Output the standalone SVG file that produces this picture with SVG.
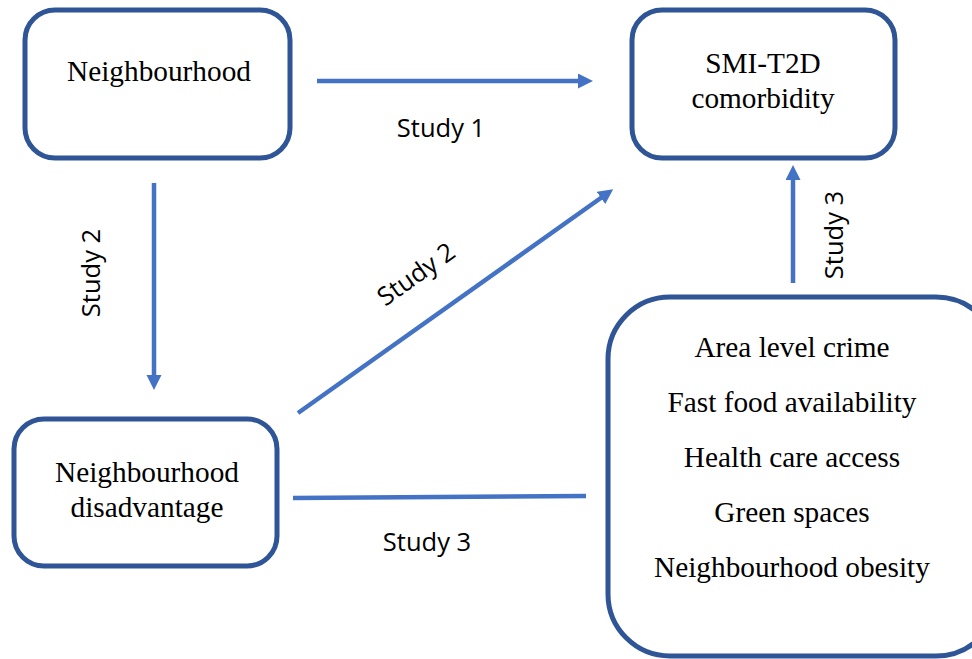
<svg xmlns="http://www.w3.org/2000/svg" width="972" height="659" viewBox="0 0 972 659">
<style>
.box{fill:#fff;stroke:#2F5597;stroke-width:5}
.nt{font-family:"Liberation Serif","Times New Roman",serif;font-size:29.3px;fill:#000;text-anchor:middle}
.lb{font-family:"Open Sans","Liberation Sans",sans-serif;font-size:25.5px;fill:#000;text-anchor:middle}
.ar{stroke:#4472C4;stroke-width:4.5;fill:none}
</style>
<defs>
<marker id="ah" markerUnits="userSpaceOnUse" markerWidth="16" markerHeight="16" refX="5" refY="7.5" orient="auto">
<path d="M0,0 L15,7.5 L0,15 z" fill="#4472C4"/>
</marker>
</defs>
<rect width="972" height="659" fill="#fff"/>
<g id="n1">
<rect class="box" x="25" y="10" width="265" height="148" rx="30"/>
<text class="nt" x="159" y="81">Neighbourhood</text>
</g>
<g id="n2">
<rect class="box" x="632" y="10" width="263" height="148" rx="30"/>
<text class="nt" x="763" y="73">SMI-T2D</text>
<text class="nt" x="763" y="108">comorbidity</text>
</g>
<g id="n3">
<rect class="box" x="14" y="419" width="263" height="147" rx="30"/>
<text class="nt" x="147" y="482">Neighbourhood</text>
<text class="nt" x="147" y="517">disadvantage</text>
</g>
<g id="n4">
<rect class="box" x="608" y="297" width="390" height="359" rx="62"/>
<text class="nt" x="792" y="357">Area level crime</text>
<text class="nt" x="792" y="412">Fast food availability</text>
<text class="nt" x="792" y="467">Health care access</text>
<text class="nt" x="792" y="522">Green spaces</text>
<text class="nt" x="792" y="577">Neighbourhood obesity</text>
</g>
<g id="connectors">
<line class="ar" x1="317" y1="81" x2="583" y2="81" marker-end="url(#ah)"/>
<line class="ar" x1="154" y1="183" x2="154" y2="380" marker-end="url(#ah)"/>
<line class="ar" x1="298" y1="413" x2="605" y2="195" marker-end="url(#ah)"/>
<line class="ar" x1="793" y1="283" x2="793" y2="175" marker-end="url(#ah)"/>
<line class="ar" x1="293" y1="498" x2="586" y2="496"/>
<text class="lb" x="441" y="137">Study 1</text>
<text class="lb" transform="translate(100,273) rotate(-90)">Study 2</text>
<text class="lb" transform="translate(416,274) rotate(-35.5)" y="9">Study 2</text>
<text class="lb" transform="translate(843,235) rotate(-90)">Study 3</text>
<text class="lb" x="427" y="551">Study 3</text>
</g>
</svg>
